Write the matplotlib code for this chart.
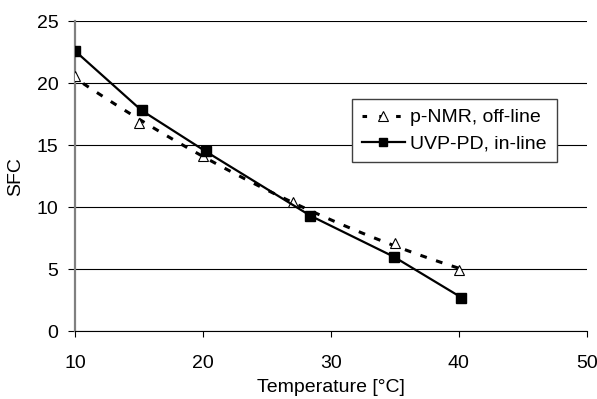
import matplotlib

matplotlib.use("Agg")
import matplotlib.pyplot as plt
import numpy as np

plt.rcParams["font.family"] = ["Liberation Sans", "DejaVu Sans"]

# p-NMR off-line (triangles), dashed curve is a 2nd-order trendline through them
nmr_temp = [10.0, 15.0, 20.0, 27.0, 35.0, 40.0]
nmr_sfc = [20.6, 16.8, 14.1, 10.4, 7.1, 4.9]
# UVP-PD in-line (squares, solid line)
uvp_temp = [10.0, 15.2, 20.2, 28.4, 34.9, 40.2]
uvp_sfc = [22.6, 17.8, 14.5, 9.3, 6.0, 2.7]

x_ticks = [10, 20, 30, 40, 50]
y_ticks = [0, 5, 10, 15, 20, 25]

fig = plt.figure(figsize=(5.97, 3.99), dpi=100)
ax = fig.add_axes([0.1256, 0.1704, 0.8574, 0.7766])

coef = np.polyfit(nmr_temp, nmr_sfc, 2)
xt = np.linspace(min(nmr_temp), max(nmr_temp), 100)
ax.plot(xt, np.polyval(coef, xt), color="black", lw=2.2,
        ls=(2.2, (2.2, 3.2)), dash_capstyle="butt", zorder=3)
ax.plot(nmr_temp, nmr_sfc, ls="none", marker="^", ms=7.5, mfc="white",
        mec="black", mew=0.8, zorder=4)
ax.plot(uvp_temp, uvp_sfc, color="black", lw=1.6, marker="s", ms=6.5, zorder=5)

h1 = plt.Line2D([], [], color="black", lw=2.2, ls=(0, (1.5, 4.0)), marker="^",
                ms=7, mfc="white", mec="black", mew=0.8)
h2 = plt.Line2D([], [], color="black", lw=1.6, marker="s", ms=6)

ax.set_xlim(10, 50); ax.set_ylim(0, 25)
ax.set_xticks(x_ticks); ax.set_yticks(y_ticks)
ax.yaxis.grid(True, color="black", lw=0.8)
ax.set_axisbelow(True)
for s in ("top", "right"):
    ax.spines[s].set_visible(False)
ax.spines["left"].set_color("#808080"); ax.spines["left"].set_linewidth(1.6)
ax.spines["bottom"].set_color("black"); ax.spines["bottom"].set_linewidth(0.8)
ax.tick_params(axis="y", direction="out", length=5, width=0.8, pad=7, labelsize=14)
ax.tick_params(axis="x", direction="out", length=4, width=0.8, pad=13, labelsize=14)
ax.set_xlabel("Temperature [°C]", fontsize=14, labelpad=5)
ax.set_ylabel("SFC", fontsize=14, labelpad=9)

leg = fig.legend([h1, h2], ["p-NMR, off-line", "UVP-PD, in-line"],
                 loc="upper left", bbox_to_anchor=(352 / 597, 1 - 99 / 399),
                 fontsize=14, fancybox=False, framealpha=1, edgecolor="#404040",
                 handlelength=2.2, handletextpad=0.3, borderpad=0.5,
                 labelspacing=0.45, borderaxespad=0)
leg.get_frame().set_linewidth(1.0)

fig.savefig("out.png", dpi=100)
